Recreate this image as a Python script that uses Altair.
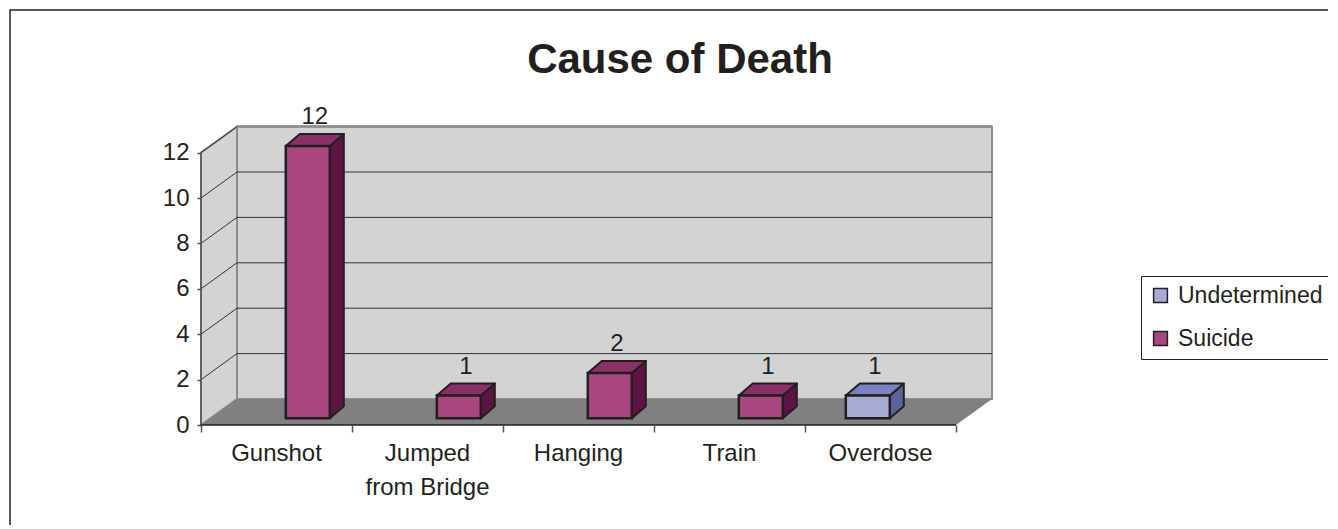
import altair as alt
import pandas as pd

# ---------------- data ----------------
categories = ["Gunshot", "Jumped from Bridge", "Hanging", "Train", "Overdose"]
axis_labels = ["Gunshot", "Jumped\nfrom Bridge", "Hanging", "Train", "Overdose"]
series = ["Undetermined", "Suicide"]
undetermined = [0, 0, 0, 0, 1]
suicide = [12, 1, 2, 1, 0]
y_ticks = [0, 2, 4, 6, 8, 10, 12]
title_text = "Cause of Death"

# ---------------- style ----------------
front_colors = {"Undetermined": "#a9abd6", "Suicide": "#a8467e"}
top_colors = {"Undetermined": "#7b82c2", "Suicide": "#8a3066"}
side_colors = {"Undetermined": "#5b62a0", "Suicide": "#5e1442"}
WALL = "#d2d3d5"
FLOOR = "#7f807f"
EDGE = "#8c8c8c"
INK = "#231f20"
FONT = "Liberation Sans"

PW, PH = 791, 298          # plot area in px
BAND_PX, UNIT_PX = 151.0, 22.7
N = len(categories)
YMAX = max(y_ticks)
DX, DY = 36 / BAND_PX, 26 / UNIT_PX      # wall depth (oblique projection)
F0X, F0Y = 9.3 / BAND_PX, 6.7 / UNIT_PX  # bar front offset into the depth
BDX, BDY = 14 / BAND_PX, 12 / UNIT_PX    # bar depth
BW = 44 / BAND_PX                        # bar width
XDOM = [0, PW / BAND_PX]
YDOM = [0, PH / UNIT_PX]

# ---------------- geometry tables ----------------
values = {"Undetermined": undetermined, "Suicide": suicide}
front_rows, top_rows, side_rows, label_rows = [], [], [], []
bid = 0
for i, cat in enumerate(categories):
    for s in series:
        v = values[s][i]
        if v <= 0:
            continue
        xl = i + 0.5 - BW if s == "Undetermined" else i + 0.5
        xr = xl + BW
        front_rows.append(dict(x=xl + F0X, x2=xr + F0X, y=F0Y, y2=v + F0Y, series=s))
        yt0, yt1 = v + F0Y, v + F0Y + BDY
        for (px, py, py2) in [
            (xl + F0X, yt0, yt0),
            (xl + F0X + BDX, yt0, yt1),
            (xr + F0X, yt0, yt1),
            (xr + F0X + BDX, yt1, yt1),
        ]:
            top_rows.append(dict(id=bid, x=px, y=py, y2=py2, fill=top_colors[s]))
        for (px, py, py2) in [
            (xr + F0X, F0Y, v + F0Y),
            (xr + F0X + BDX, F0Y + BDY, v + F0Y + BDY),
        ]:
            side_rows.append(dict(id=bid, x=px, y=py, y2=py2, fill=side_colors[s]))
        label_rows.append(dict(x=xl + F0X + BW / 2 + BDX / 2, y=v + F0Y + BDY, text=str(v)))
        bid += 1

front_df = pd.DataFrame(front_rows)
top_df = pd.DataFrame(top_rows)
side_df = pd.DataFrame(side_rows)
label_df = pd.DataFrame(label_rows)

back_df = pd.DataFrame({"x": [DX], "x2": [N + DX], "y": [DY], "y2": [YMAX + DY]})
sidewall_df = pd.DataFrame({"x": [0, DX], "y": [0, DY], "y2": [YMAX, YMAX + DY]})
floor_df = pd.DataFrame({"x": [0, DX, N, N + DX], "y": [0, 0, 0, DY], "y2": [0, DY, DY, DY]})
grid_df = pd.DataFrame({"x": [DX] * (len(y_ticks) - 2), "x2": [N + DX] * (len(y_ticks) - 2),
                        "y": [v + DY for v in y_ticks[1:-1]]})
diag_df = pd.DataFrame({"x": [0.0] * (len(y_ticks) - 1), "x2": [DX] * (len(y_ticks) - 1),
                        "y": y_ticks[1:], "y2": [v + DY for v in y_ticks[1:]]})
cat_df = pd.DataFrame({"x": [i + 0.5 for i in range(N)], "y": [0] * N, "label": axis_labels})
yaxis_df = pd.DataFrame({"x": [0], "y": [0], "y2": [YMAX]})
xaxis_df = pd.DataFrame({"x": [0], "x2": [N], "y": [0]})
title_df = pd.DataFrame({"t": [title_text]})

xs = alt.Scale(domain=XDOM, nice=False, zero=False)
ys = alt.Scale(domain=YDOM, nice=False, zero=False)

x_axis = alt.Axis(values=list(range(N + 1)), labels=False, ticks=True, tickSize=7,
                  tickColor="#555555", tickWidth=1.5, domain=False, grid=False, title=None,
                  zindex=1)
y_axis = alt.Axis(values=y_ticks, tickSize=4, tickColor="#555555", tickWidth=1.5, domain=False,
                  grid=False, labelFontSize=24, labelFont=FONT, labelColor=INK, labelPadding=8,
                  title=None, zindex=1)


def X(f="x"):
    return alt.X(f"{f}:Q", scale=xs, axis=x_axis, title=None)


def Y(f="y"):
    return alt.Y(f"{f}:Q", scale=ys, axis=y_axis, title=None, stack=None)


back = alt.Chart(back_df).mark_rect(fill=WALL, stroke=EDGE, strokeWidth=2).encode(
    x=X(), x2="x2:Q", y=Y(), y2="y2:Q")
sidewall = alt.Chart(sidewall_df).mark_area(fill=WALL, stroke=EDGE, strokeWidth=2).encode(
    x=X(), y=Y(), y2="y2:Q")
floor = alt.Chart(floor_df).mark_area(fill=FLOOR).encode(x=X(), y=Y(), y2="y2:Q")
grid = alt.Chart(grid_df).mark_rule(color="#333333", strokeWidth=1).encode(
    x=X(), x2="x2:Q", y=Y())
topedge = alt.Chart(back_df).mark_rule(color=EDGE, strokeWidth=2.5).encode(
    x=X(), x2="x2:Q", y=Y("y2"))
diag = alt.Chart(diag_df).mark_rule(color="#333333", strokeWidth=1).encode(
    x=X(), x2="x2:Q", y=Y(), y2="y2:Q")
yline = alt.Chart(yaxis_df).mark_rule(color="#555555", strokeWidth=1.5).encode(
    x=X(), y=Y(), y2="y2:Q")
xline = alt.Chart(xaxis_df).mark_rule(color=INK, strokeWidth=1.5).encode(
    x=X(), x2="x2:Q", y=Y())

sides = alt.Chart(side_df).mark_area(stroke=INK, strokeWidth=2, strokeJoin="round").encode(
    x=X(), y=Y(), y2="y2:Q", fill=alt.Fill("fill:N", scale=None), detail="id:N")
tops = alt.Chart(top_df).mark_area(stroke=INK, strokeWidth=2, strokeJoin="round").encode(
    x=X(), y=Y(), y2="y2:Q", fill=alt.Fill("fill:N", scale=None), detail="id:N")
fronts = alt.Chart(front_df).mark_rect(stroke=INK, strokeWidth=2.5).encode(
    x=X(), x2="x2:Q", y=Y(), y2="y2:Q",
    color=alt.Color("series:N",
                    scale=alt.Scale(domain=series, range=[front_colors[s] for s in series]),
                    legend=alt.Legend(title=None, orient="none", legendX=940, legendY=149,
                                      symbolType="square", symbolSize=190,
                                      symbolStrokeColor=INK, symbolStrokeWidth=1.5,
                                      labelFontSize=23, labelFont=FONT, labelColor=INK,
                                      labelOffset=6, rowPadding=19, padding=8,
                                      strokeColor=INK, fillColor="white")))
vlabels = alt.Chart(label_df).mark_text(fontSize=24, font=FONT, color=INK, baseline="bottom",
                                        dy=-5).encode(x=X(), y=Y(), text="text:N")
clabels = alt.Chart(cat_df).mark_text(fontSize=24, font=FONT, color=INK, baseline="top", dy=17,
                                      lineBreak="\n", lineHeight=34).encode(
    x=X(), y=Y(), text="label:N")
title = alt.Chart(title_df).mark_text(fontSize=42, font=FONT, fontWeight="bold", color=INK,
                                      baseline="middle", align="center").encode(
    x=alt.value(479), y=alt.value(-67), text="t:N")
frame = alt.Chart(title_df).mark_rect(fill="transparent", stroke=INK, strokeWidth=1.5).encode(
    x=alt.value(-191), x2=alt.value(1300), y=alt.value(-117), y2=alt.value(500))

chart = alt.layer(
    back, sidewall, floor, grid, diag, topedge, yline, xline,
    sides, tops, fronts, vlabels, clabels, title, frame,
).properties(
    width=PW, height=PH,
    background="white",
    padding={"left": 193, "top": 119, "right": 336, "bottom": 100},
    autosize=alt.AutoSizeParams(type="none"),
).configure_view(stroke="transparent", strokeWidth=0)

chart.save("out.html", embed_options={"renderer": "svg", "actions": False})
